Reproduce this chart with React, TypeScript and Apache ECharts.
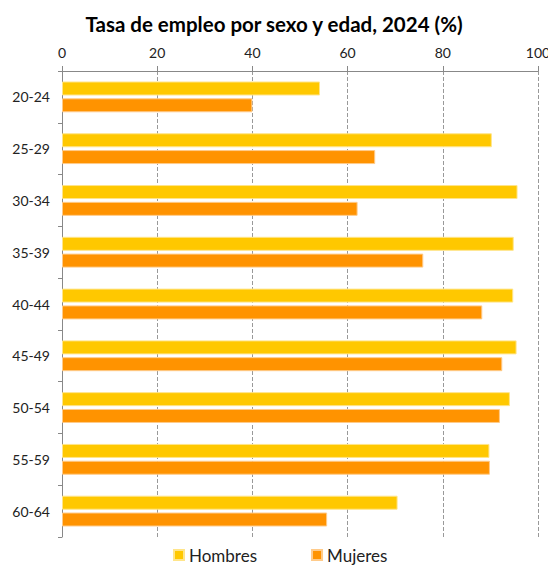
import React, { useEffect, useRef } from "react";
import * as echarts from "echarts";

const categories = ["20-24", "25-29", "30-34", "35-39", "40-44", "45-49", "50-54", "55-59", "60-64"];
const hombres = [54.2, 90.3, 95.7, 94.9, 94.8, 95.5, 94.1, 89.8, 70.5];
const mujeres = [40.0, 65.8, 62.1, 75.9, 88.3, 92.5, 92.0, 89.9, 55.7];
const xTicks = [0, 20, 40, 60, 80, 100];

export default function App() {
  const ref = useRef<HTMLDivElement>(null);
  useEffect(() => {
    document.body.style.margin = "0";
    const chart = echarts.init(ref.current!, null, { renderer: "svg" });
    const font = "Lato, 'Open Sans', sans-serif";
    chart.setOption({
      animation: false,
      backgroundColor: "#ffffff",
      textStyle: { fontFamily: font },
      title: {
        text: "Tasa de empleo por sexo y edad, 2024 (%)",
        left: "center",
        top: 8,
        textStyle: { fontSize: 20.5, fontWeight: "bold", color: "#000", fontFamily: font },
      },
      legend: {
        top: 545,
        left: 173,
        padding: 0,
        itemWidth: 10,
        itemHeight: 10,
        itemGap: 54,
        icon: "rect",
        textStyle: { fontSize: 17, lineHeight: 20, color: "#222", fontFamily: font },
        data: ["Hombres", "Mujeres"],
      },
      grid: { left: 62, right: 10, top: 71, bottom: 28, containLabel: false, outerBoundsMode: "none" },
      xAxis: {
        type: "value",
        position: "top",
        min: xTicks[0],
        max: xTicks[xTicks.length - 1],
        interval: 20,
        axisLine: { show: true, lineStyle: { color: "#888", width: 1 } },
        axisTick: { show: true, length: 5, lineStyle: { color: "#888" } },
        axisLabel: { fontSize: 14, color: "#222", margin: 12, fontFamily: font },
        splitLine: { show: true, lineStyle: { color: "#999", type: "dashed", width: 1 } },
      },
      yAxis: {
        type: "category",
        data: categories,
        inverse: true,
        axisLine: { show: true, lineStyle: { color: "#888", width: 1 } },
        axisTick: { show: true, length: 4, lineStyle: { color: "#888" } },
        axisLabel: { fontSize: 14, color: "#222", margin: 12, fontFamily: font },
        splitLine: { show: false },
      },
      series: [
        {
          name: "Hombres",
          type: "bar",
          data: hombres,
          barWidth: 14,
          barGap: "20%",
          itemStyle: { color: "#FFC800", borderColor: "#FFE58A", borderWidth: 1 },
        },
        {
          name: "Mujeres",
          type: "bar",
          data: mujeres,
          barWidth: 14,
          barGap: "20%",
          itemStyle: { color: "#FF9300", borderColor: "#FFCB8A", borderWidth: 1 },
        },
      ],
    });
    return () => chart.dispose();
  }, []);
  return <div ref={ref} style={{ width: 548, height: 565 }} />;
}
